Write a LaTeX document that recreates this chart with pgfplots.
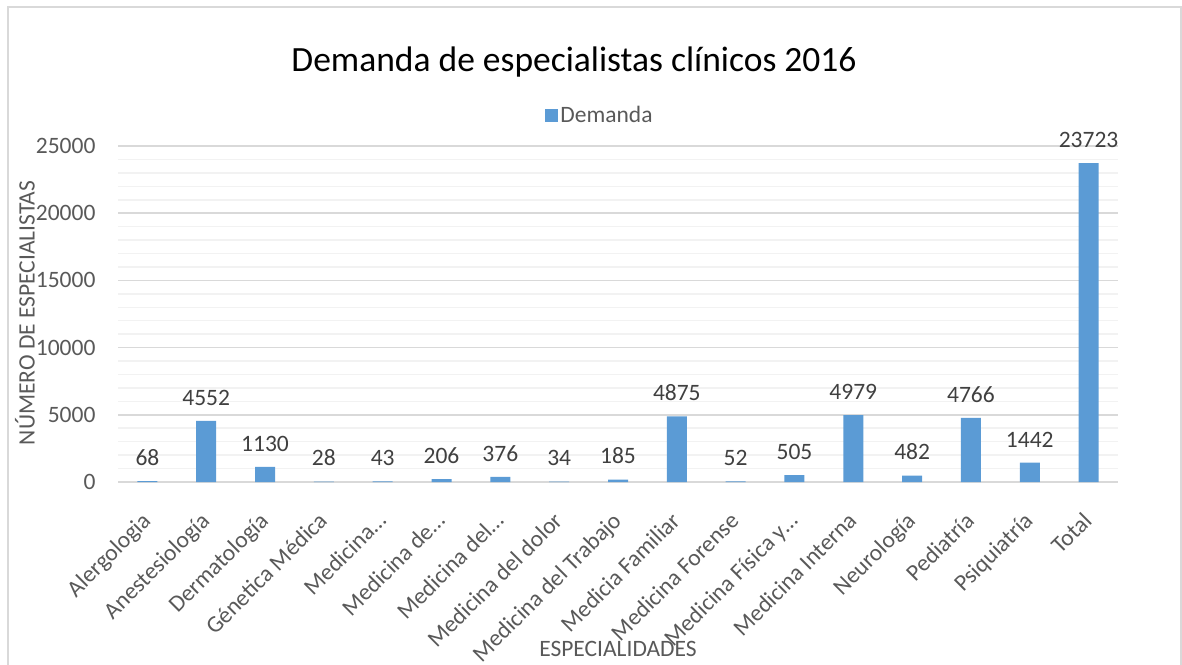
\documentclass[border=0pt]{standalone}
\usepackage{pgfplots}
\pgfplotsset{compat=1.18}
\usepackage{fontspec}
\setmainfont{Carlito}
\definecolor{barblue}{HTML}{5B9BD5}
\definecolor{txtgray}{HTML}{595959}
\definecolor{lblgray}{HTML}{404040}
\definecolor{majgrid}{HTML}{D9D9D9}
\definecolor{mingrid}{HTML}{F2F2F2}
\begin{document}
\begin{tikzpicture}
\useasboundingbox (0pt,0pt) rectangle (1182pt,664pt);
\draw[majgrid,line width=2pt] (8pt,-5pt) -- (8pt,657pt) -- (1181pt,657pt) -- (1181pt,-5pt);
\node[font=\fontsize{35.5}{40}\selectfont, text=black, anchor=base] at (574pt,592pt) {Demanda de especialistas clínicos 2016};
\begin{axis}[
  at={(118pt,182pt)}, anchor=south west,
  scale only axis, width=1000pt, height=336pt,
  xmin=-0.5, xmax=16.5, ymin=0, ymax=25000,
  ybar, bar width=20pt,
  axis x line*=bottom, axis y line*=left,
  x axis line style={draw=majgrid, line width=1.5pt},
  y axis line style={draw=none},
  major tick length=0pt, minor tick length=0pt,
  ytick={0,5000,...,25000}, minor y tick num=4,
  ymajorgrids, yminorgrids,
  major grid style={draw=majgrid, line width=1.5pt},
  minor grid style={draw=mingrid, line width=1.5pt},
  /pgf/number format/assume math mode=true,
  yticklabel style={font=\fontsize{23.5}{26}\selectfont, text=txtgray, xshift=-19pt},
  scaled y ticks=false,
  yticklabel={\pgfmathprintnumber[fixed,1000 sep={}]{\tick}},
  xtick={0,...,16},
  xticklabels={Alergologia,Anestesiología,Dermatología,Génetica Médica,Medicina…,Medicina de…,Medicina del…,Medicina del dolor,Medicina del Trabajo,Medicia Familiar,Medicina Forense,Medicina Física y…,Medicina Interna,Neurología,Pediatría,Psiquiatría,Total},
  xticklabel style={font=\fontsize{23.5}{26}\selectfont, text=txtgray, anchor=north east, inner sep=1pt, xshift=-7pt, yshift=-27pt, rotate=45},
  ylabel={NÚMERO DE ESPECIALISTAS},
  every axis y label/.style={at={(axis description cs:-0.093,0.503)}, rotate=90, anchor=center, font=\fontsize{23.5}{26}\selectfont, text=txtgray},
  xlabel={ESPECIALIDADES},
  every axis x label/.style={at={(axis description cs:0.5,-0.497)}, anchor=center, font=\fontsize{23.5}{26}\selectfont, text=txtgray},
  nodes near coords,
  nodes near coords style={font=\fontsize{23.5}{26}\selectfont, text=lblgray, anchor=south, yshift=12pt},
  point meta=explicit symbolic,
  legend style={at={(axis description cs:0.482,1.092)}, anchor=center, draw=none, fill=none, font=\fontsize{23.5}{26}\selectfont, text=txtgray, legend cell align=left},
  legend image code/.code={\fill[barblue] (0pt,-6.5pt) rectangle (13pt,6.5pt);},
  clip=false,
]
\addplot[fill=barblue, draw=none] table[meta=label] {
x y label
0 68 68
1 4552 4552
2 1130 1130
3 28 28
4 43 43
5 206 206
6 376 376
7 34 34
8 185 185
9 4875 4875
10 52 52
11 505 505
12 4979 4979
13 482 482
14 4766 4766
15 1442 1442
16 23723 23723
};
\addlegendentry{Demanda}
\end{axis}
\end{tikzpicture}
\end{document}
